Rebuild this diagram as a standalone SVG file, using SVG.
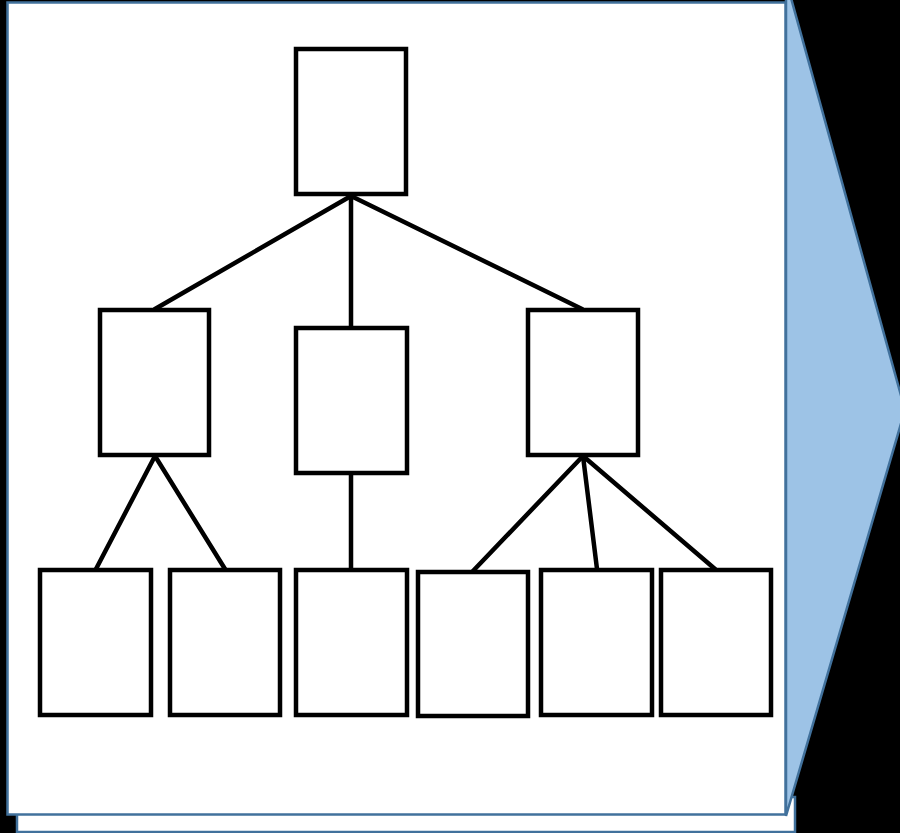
<svg xmlns="http://www.w3.org/2000/svg" width="900" height="833" viewBox="0 0 900 833">
<style>
.page{fill:#ffffff;stroke:#41719C;stroke-width:2.5}
.node rect{fill:#ffffff;stroke:#000000;stroke-width:4.5}
#connectors line{stroke:#000000;stroke-width:4.5;stroke-linecap:round}
</style>
<rect x="0" y="0" width="900" height="833" fill="#000000"/>
<g id="back-page"><rect class="page" x="17" y="797" width="778" height="35"/></g>
<g id="arrow"><polygon points="786,-2 791,-2 905,410 786,816" fill="#9DC3E6" stroke="#41719C" stroke-width="2.5" stroke-linejoin="miter"/></g>
<g id="front-page"><rect class="page" x="7.5" y="2.5" width="778" height="812"/></g>
<g id="connectors">
<line x1="351" y1="196" x2="155" y2="309"/>
<line x1="351" y1="196" x2="351" y2="327"/>
<line x1="351" y1="196" x2="582" y2="309"/>
<line x1="155" y1="456" x2="96" y2="569"/>
<line x1="155" y1="456" x2="225" y2="569"/>
<line x1="351" y1="474" x2="351" y2="569"/>
<line x1="583" y1="456" x2="473" y2="571"/>
<line x1="583" y1="456" x2="597" y2="569"/>
<line x1="583" y1="456" x2="715" y2="569"/>
</g>
<g id="root" class="node"><rect x="296" y="49" width="110" height="145"/></g>
<g id="mid-left" class="node"><rect x="100" y="310" width="109" height="145"/></g>
<g id="mid-center" class="node"><rect x="296" y="328" width="111" height="145"/></g>
<g id="mid-right" class="node"><rect x="528" y="310" width="110" height="145"/></g>
<g id="leaf-1" class="node"><rect x="40" y="570" width="111" height="145"/></g>
<g id="leaf-2" class="node"><rect x="170" y="570" width="110" height="145"/></g>
<g id="leaf-3" class="node"><rect x="296" y="570" width="111" height="145"/></g>
<g id="leaf-4" class="node"><rect x="418" y="572" width="110" height="144"/></g>
<g id="leaf-5" class="node"><rect x="541" y="570" width="111" height="145"/></g>
<g id="leaf-6" class="node"><rect x="661" y="570" width="110" height="145"/></g>
</svg>
